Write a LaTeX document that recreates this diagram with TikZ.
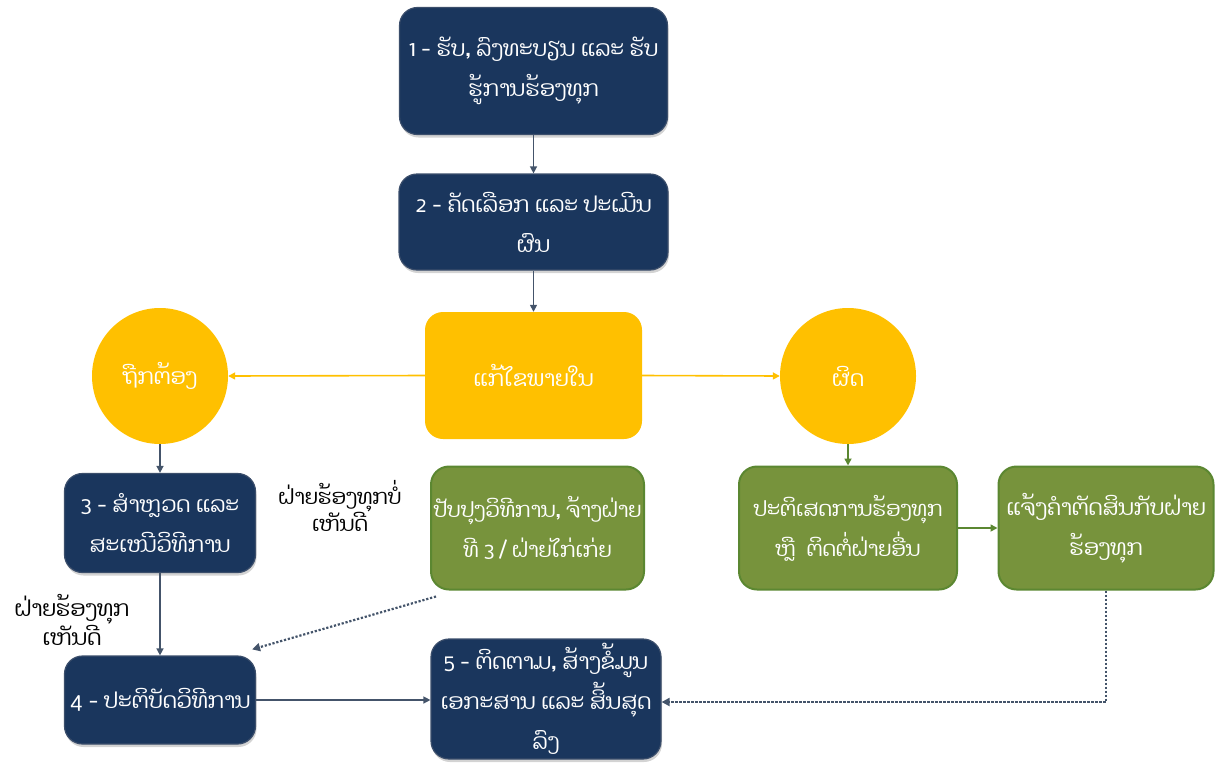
\documentclass[tikz,border=0pt]{standalone}
\usepackage{fontspec}
\usetikzlibrary{arrows.meta,shadows}
\newfontfamily\lao[Script=Lao]{Dhyana}
\definecolor{navy}{HTML}{1A365D}
\definecolor{navyedge}{HTML}{3B4E6B}
\definecolor{conn}{HTML}{44546A}
\definecolor{gold}{HTML}{FFC000}
\definecolor{leaf}{HTML}{77933C}
\definecolor{leafedge}{HTML}{5B8731}
\tikzset{
  base/.style={rounded corners=18pt, align=center, text=white, font=\lao\fontsize{22}{40}\selectfont, inner sep=0pt},
  navybox/.style={base, fill=navy, draw=navyedge, line width=1.2pt, drop shadow={shadow xshift=1pt, shadow yshift=-3pt, opacity=0.35}},
  goldbox/.style={base, fill=gold, draw=none},
  goldcirc/.style={circle, fill=gold, draw=none, text=white, font=\lao\fontsize{22}{40}\selectfont, minimum size=136pt, inner sep=0pt},
  leafbox/.style={base, fill=leaf, draw=leafedge, line width=2pt},
  lbl/.style={align=center, text=black, font=\lao\fontsize{21}{27}\selectfont},
  cn/.style={-{Triangle[length=7pt,width=7pt,fill=conn]}, draw=conn, line width=1.4pt},
  cy/.style={-{Triangle[length=7pt,width=7pt,fill=gold]}, draw=gold, line width=1.6pt},
  cg/.style={-{Triangle[length=7pt,width=7pt,fill=leafedge]}, draw=leafedge, line width=1.6pt},
  cd/.style={-{Triangle[length=8pt,width=8pt,fill=conn]}, draw=conn, line width=2.2pt, dash pattern=on 2.2pt off 1.8pt},
}
\begin{document}
\begin{tikzpicture}[x=1pt,y=-1pt]
\useasboundingbox (0,0) rectangle (1217,763);
\node[navybox, minimum width=268pt, minimum height=127pt] (b1) at (533.5,71) {1 - ຮັບ, ລົງທະບຽນ ແລະ ຮັບ\\ຮູ້ການຮ້ອງທຸກ};
\node[navybox, minimum width=269pt, minimum height=96pt] (b2) at (533.5,222) {2 - ຄັດເລືອກ ແລະ ປະເມີນ\\ຜົນ};
\node[goldbox, minimum width=217pt, minimum height=127pt] (c) at (533.5,375.5) {ແກ້ໄຂພາຍໃນ};
\node[goldcirc] (ok) at (160,376) {ຖືກຕ້ອງ};
\node[goldcirc] (bad) at (848,376) {ຜິດ};
\node[navybox, minimum width=191pt, minimum height=99pt] (b3) at (160,523) {3 - ສຳຫຼວດ ແລະ\\ສະເໜີວິທີການ};
\node[leafbox, minimum width=213pt, minimum height=123pt, font=\lao\fontsize{21}{40}\selectfont] (ga) at (537.5,528) {ປັບປຸງວິທີການ, ຈ້າງຝ່າຍ\\ທີ 3 / ຝ່າຍໄກ່ເກ່ຍ};
\node[leafbox, minimum width=218pt, minimum height=123pt, font=\lao\fontsize{21}{40}\selectfont] (gb) at (848,528) {ປະຕິເສດການຮ້ອງທຸກ\\ຫຼື\ \ ຕິດຕໍ່ຝ່າຍອື່ນ};
\node[leafbox, minimum width=215pt, minimum height=123pt] (gc) at (1106,528) {ແຈ້ງຄຳຕັດສິນກັບຝ່າຍ\\ຮ້ອງທຸກ};
\node[navybox, minimum width=191pt, minimum height=88pt] (b4) at (160,700) {4 - ປະຕິບັດວິທີການ};
\node[navybox, minimum width=230pt, minimum height=120pt] (b5) at (546,699) {5 - ຕິດຕາມ, ສ້າງຂໍ້ມູນ\\ເອກະສານ ແລະ ສິ້ນສຸດ\\ລົງ};
\node[lbl] (l1) at (340,506) {ຝ່າຍຮ້ອງທຸກບໍ່\\ເຫັນດີ};
\node[lbl, font=\lao\fontsize{22}{27}\selectfont] (l2) at (72,620) {ຝ່າຍຮ້ອງທຸກ\\ເຫັນດີ};
\coordinate (corner) at (1106,702);
\draw[cn] (b1.south) -- (b2.north);
\draw[cn] (b2.south) -- (c.north);
\draw[cy] (c.west) -- (ok.east);
\draw[cy] (c.east) -- (bad.west);
\draw[cn] (ok.south) -- (b3.north);
\draw[cg] (bad.south) -- (gb.north);
\draw[cn] (b3.south) -- (b4.north);
\draw[cd] ([xshift=6pt,yshift=-6pt]ga.south west) -- ([xshift=-4pt,yshift=6pt]b4.north east);
\draw[cn] (b4.east) -- (b5.west |- b4.east);
\draw[cg] (gb.east) -- (gc.west);
\draw[cd] (gc.south) -- (corner) -- (b5.east |- corner);
\end{tikzpicture}
\end{document}
